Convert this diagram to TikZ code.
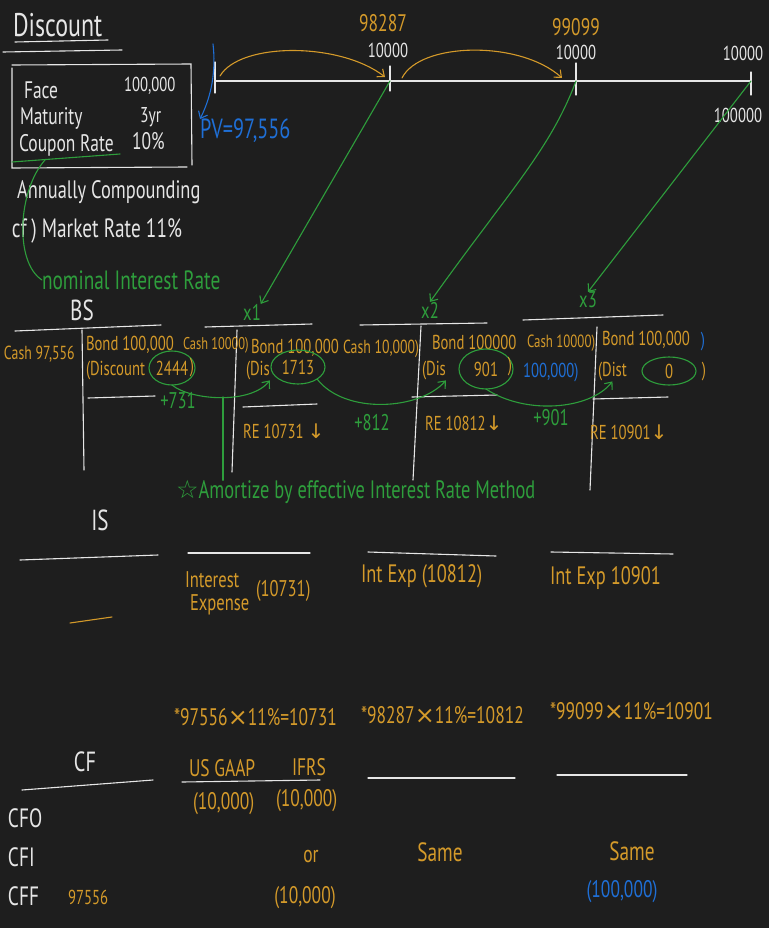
\documentclass[tikz,border=0pt]{standalone}
\usepackage{fontspec}
\newfontfamily\hand[FakeStretch=0.73]{PT Sans}
\newfontfamily\symf{DejaVu Sans}
\usetikzlibrary{arrows.meta,shapes.geometric}
\definecolor{bgc}{HTML}{1E1E1E}
\definecolor{wt}{HTML}{E6E6E6}
\definecolor{og}{HTML}{D49A2A}
\definecolor{gn}{HTML}{2E9E3C}
\definecolor{bl}{HTML}{1F6FD6}
\tikzset{
  every node/.style={inner sep=0pt, outer sep=0pt},
  txw/.style={text=wt}, txo/.style={text=og}, txg/.style={text=gn}, txb/.style={text=bl},
  fs/.style={font=\hand\fontsize{\fpeval{1.26*#1}}{\fpeval{1.3*#1}}\selectfont},
  wl/.style={draw=wt, line width=1.1pt, line cap=round},
  ol/.style={draw=og, line width=1.1pt, line cap=round},
  gl/.style={draw=gn, line width=1.1pt, line cap=round},
  bln/.style={draw=bl, line width=1.1pt, line cap=round},
  ring/.style={ellipse, draw=gn, line width=1.1pt, text=og},
  barb/.style={-{Straight Barb[length=6pt,width=10pt]}}
}
\begin{document}
\begin{tikzpicture}[x=1pt,y=-1pt]
\fill[bgc] (0,0) rectangle (769,928);
\useasboundingbox (0,0) rectangle (769,928);

% ---- title and given data ----
\node[txw,fs=26,anchor=west] (title) at (13,25) {Discount};
\draw[wl] (15,42) -- (108,40);
\draw[wl] (3,52) -- (122,50);
\draw[wl] (12,68) -- (12,168) -- (187,167);
\draw[wl] (12,65) -- (191,64) -- (192,165);
\node[txw,fs=19,anchor=west] (face) at (24,90) {Face};
\node[txw,fs=16,anchor=west] (facev) at (124,86) {100,000};
\node[txw,fs=19,anchor=west] (mat) at (20,118) {Maturity};
\node[txw,fs=17,anchor=west] (matv) at (140,117) {3yr};
\node[txw,fs=19,anchor=west] (cpn) at (19,145) {Coupon Rate};
\node[txw,fs=19,anchor=west] (cpnv) at (132,141) {10\%};
\coordinate (cu) at (45,160);
\draw[gl] (12,162) -- (120,154);
\node[txw,fs=20,anchor=west] (annual) at (17,192) {Annually Compounding};
\node[txw,fs=21,anchor=west] (mkt) at (12,231) {cf\,) Market Rate 11\%};
\node[txg,fs=21,anchor=west] (nom) at (42,280) {nominal Interest Rate};
\draw[gl] (cu) .. controls (18,190) and (14,262) .. (nom.west);

% ---- timeline ----
\coordinate (t0) at (215,81);
\coordinate (t1) at (390,81);
\coordinate (t2) at (576,81);
\coordinate (t3) at (751,81);
\draw[wl] (t0) -- (t3);
\draw[wl] (215,62) -- (215,93);
\draw[wl] (390,66) -- (390,91);
\draw[wl] (576,63) -- (576,95);
\draw[wl] (751,72) -- (751,95);
\node[txo,fs=19] (pv1) at (383,23) {98287};
\node[txw,fs=16] (c1) at (388,50) {10000};
\node[txo,fs=19] (pv2) at (576,27) {99099};
\node[txw,fs=16] (c2) at (576,52) {10000};
\node[txw,fs=16] (c3) at (743,53) {10000};
\node[txw,fs=16] (c3f) at (738,115) {100000};
\node[txb,fs=22,anchor=west] (pv) at (200,131) {PV=97,556};
\coordinate (pvs) at (213,44);
\draw[bln,barb] (pvs) .. controls (216,70) and (212,95) .. (pv.north west);
\coordinate (a0) at (220,76);
\coordinate (a1) at (385,77);
\coordinate (b0) at (402,78);
\coordinate (b1) at (562,78);
\draw[ol,barb] (a0) .. controls (240,42) and (340,42) .. (a1);
\draw[ol,barb] (b0) .. controls (420,42) and (520,40) .. (b1);

% ---- year labels ----
\node[txg,fs=18] (x1) at (252,312) {x1};
\node[txg,fs=18] (x2) at (430,310) {x2};
\node[txg,fs=18] (x3) at (588,300) {x3};
\draw[gl,barb] (t1) -- (x1.north east);
\draw[gl,barb] (t2) .. controls (550,150) and (510,190) .. (x2.north);
\draw[gl,barb] (t3) -- (x3.north);

% ---- BS ----
\node[txw,fs=23] (bs) at (82,310) {BS};
\draw[wl] (15,331) -- (161,325);
\draw[wl] (82,330) -- (84,470);
\draw[wl] (88,398) -- (155,396);
\draw[wl] (205,327) -- (312,324);
\draw[wl] (237,330) -- (232,472);
\draw[wl] (243,407) -- (317,404);
\draw[wl] (360,325) -- (487,323);
\draw[wl] (421,326) -- (413,480);
\draw[wl] (412,397) -- (497,395);
\draw[wl] (523,320) -- (663,315);
\draw[wl] (597,327) -- (590,490);
\draw[wl] (593,399) -- (668,397);

\node[txo,fs=15,anchor=west] (cash0) at (4,354) {Cash 97,556};
\node[txo,fs=16,anchor=west] (bond0) at (86,345) {Bond 100,000};
\node[txo,fs=16,anchor=west] (dis0) at (86,371) {(Discount};
\node[ring,fs=16,minimum width=46,minimum height=34] (e1) at (172,368) {2444};
\node[txo,fs=16] (cl0) at (192,368) {)};

\node[txo,fs=13.5,anchor=west] (cash1) at (183,345) {Cash 10000)};
\node[txo,fs=16,anchor=west] (bond1) at (251,348) {Bond 100,000};
\node[txo,fs=16,anchor=west] (dis1) at (246,371) {(Dis};
\node[ring,fs=16,minimum width=54,minimum height=34] (e2) at (298,367) {1713};
\node[txo,fs=16,anchor=west] (re1) at (243,431) {RE 10731 {\symf↓}};

\node[txo,fs=15,anchor=west] (cash2) at (343,349) {Cash 10,000)};
\node[txo,fs=16,anchor=west] (bond2) at (432,342) {Bond 100000};
\node[txo,fs=16,anchor=west] (dis2) at (422,371) {(Dis};
\node[ring,fs=16,minimum width=54,minimum height=40] (e3) at (486,369) {901};
\node[txo,fs=16] (cl2) at (510,367) {)};
\node[txo,fs=16,anchor=west] (re2) at (425,423) {RE 10812{\symf↓}};

\node[txo,fs=14,anchor=west] (cash3) at (527,343) {Cash 10000)};
\node[txb,fs=16,anchor=west] (cash3b) at (523,373) {100,000)};
\node[txo,fs=16,anchor=west] (bond3) at (602,340) {Bond 100,000};
\node[txb,fs=16] (bond3b) at (703,342) {)};
\node[txo,fs=16,anchor=west] (dis3) at (598,372) {(Dist};
\node[ring,fs=16,minimum width=54,minimum height=28] (e4) at (669,371) {0};
\node[txo,fs=16] (cl3) at (704,372) {)};
\node[txo,fs=16,anchor=west] (re3) at (590,432) {RE 10901{\symf↓}};

\node[txg,fs=18] (p1) at (178,401) {+731};
\node[txg,fs=18] (p2) at (372,423) {+812};
\node[txg,fs=18] (p3) at (551,418) {+901};

\node[txg,fs=20,anchor=west] (amort) at (176,492) {{\symf☆}Amortize by effective Interest Rate Method};
\coordinate (j1) at (223,397);
\draw[gl,barb] (e1.south) .. controls (190,400) and (250,405) .. (dis1.south east);
\draw[gl] (j1) -- (j1 |- amort.north);
\draw[gl,barb] (e2.south east) .. controls (345,415) and (420,410) .. (dis2.south east);
\draw[gl,barb] (e3.south) .. controls (525,415) and (590,410) .. (dis3.south);

% ---- IS ----
\node[txw,fs=23] (is) at (100,520) {IS};
\draw[wl] (20,560) -- (158,555);
\draw[wl] (188,553) -- (310,553);
\draw[wl] (368,552) -- (496,556);
\draw[wl] (551,552) -- (673,554);
\draw[ol] (70,623) -- (112,617);
\node[txo,fs=18,anchor=west] (ie1) at (185,580) {Interest};
\node[txo,fs=18,anchor=west] (ie1b) at (190,605) {Expense};
\node[txo,fs=18,anchor=west] (ie1v) at (256,591) {(10731)};
\node[txo,fs=20,anchor=west] (ie2) at (361,576) {Int Exp (10812)};
\node[txo,fs=20,anchor=west] (ie3) at (550,578) {Int Exp 10901};

\node[txo,fs=19,anchor=west] (f1) at (174,717) {*97556{\symf×}11\%=10731};
\node[txo,fs=19,anchor=west] (f2) at (361,715) {*98287{\symf×}11\%=10812};
\node[txo,fs=19,anchor=west] (f3) at (550,711) {*99099{\symf×}11\%=10901};

% ---- CF ----
\node[txw,fs=22] (cf) at (85,762) {CF};
\draw[wl] (22,790) -- (153,780);
\node[txo,fs=19,anchor=west] (gaap) at (189,768) {US GAAP};
\node[txo,fs=19,anchor=west] (ifrs) at (292,767) {IFRS};
\draw[wl] (182,782) -- (320,780);
\draw[wl] (368,778) -- (515,778);
\draw[wl] (557,775) -- (687,775);
\node[txo,fs=19,anchor=west] (g1) at (193,804) {(10,000)};
\node[txo,fs=19,anchor=west] (i1) at (276,801) {(10,000)};
\node[txw,fs=21,anchor=west] (cfo) at (8,818) {CFO};
\node[txw,fs=21,anchor=west] (cfi) at (8,857) {CFI};
\node[txw,fs=21,anchor=west] (cff) at (8,896) {CFF};
\node[txo,fs=16,anchor=west] (cffv) at (68,897) {97556};
\node[txo,fs=19] (or) at (311,857) {or};
\node[txo,fs=19] (i3) at (305,898) {(10,000)};
\node[txo,fs=21] (same1) at (440,852) {Same};
\node[txo,fs=21] (same2) at (632,851) {Same};
\node[txb,fs=19] (fin) at (622,892) {(100,000)};
\end{tikzpicture}
\end{document}
